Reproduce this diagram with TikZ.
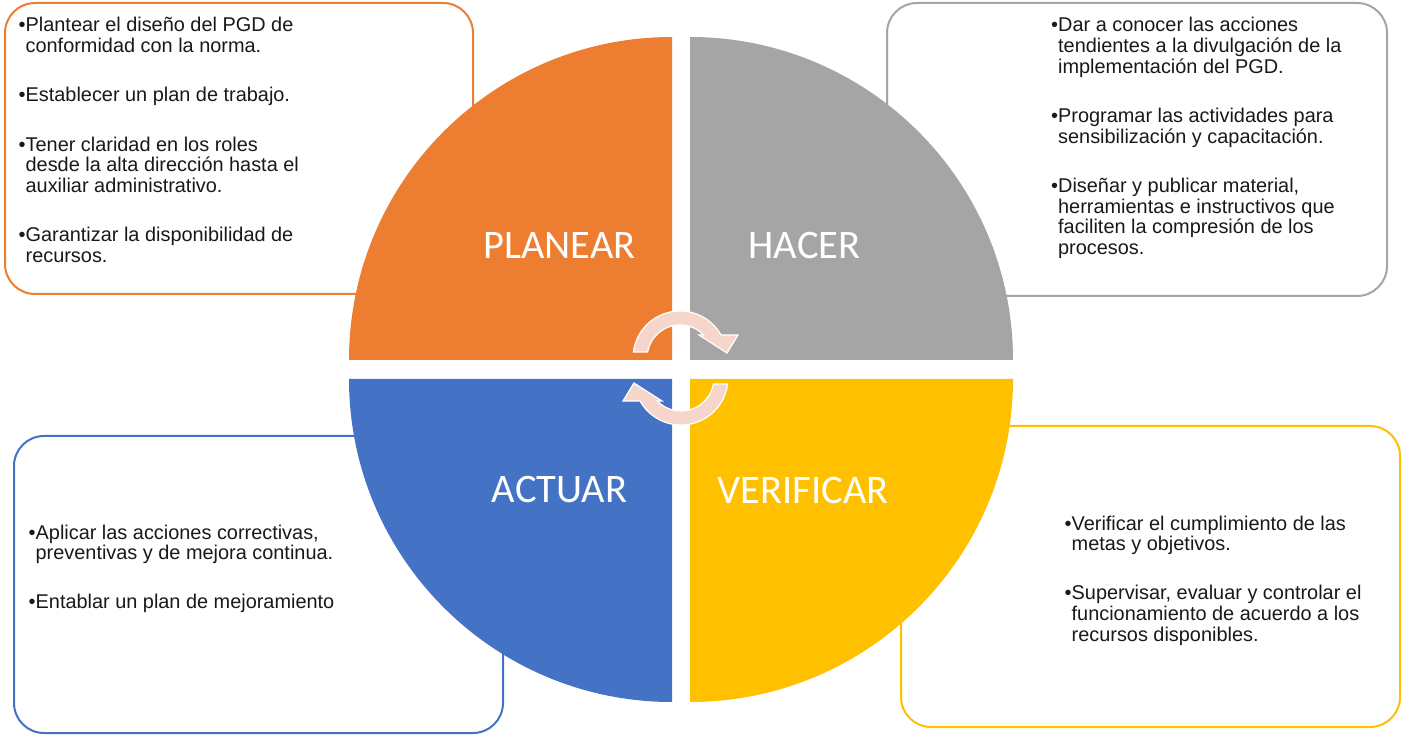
\documentclass[tikz,border=0pt]{standalone}
\usepackage{fontspec}
\setmainfont{Liberation Sans}
\newfontfamily\labelfont{Carlito}
\definecolor{cOrange}{HTML}{ED7D31}
\definecolor{cGray}{HTML}{A5A5A5}
\definecolor{cBlue}{HTML}{4472C4}
\definecolor{cYellow}{HTML}{FFC000}
\definecolor{cArrow}{HTML}{F6D6CB}
\tikzset{
  infobox/.style={draw, line width=2pt, rounded corners=30pt, fill=white},
  biglabel/.style={text=white, font=\labelfont\fontsize{40.5}{44}\selectfont, inner sep=0pt, anchor=base},
  bullets/.style={font=\fontsize{19.9}{20.7}\selectfont, align=left, inner sep=0pt, anchor=base west, text=black!90},
  cyclearrow/.style={fill=cArrow, draw=white, line width=1.2pt, line join=miter}
}
\newcommand{\hb}{\hphantom{•}}
\begin{document}
\begin{tikzpicture}[x=1pt,y=1pt]
\useasboundingbox (0,0) rectangle (1405,734);
% boxes
\draw[infobox, draw=cOrange] (5,440) rectangle (473,731);
\draw[infobox, draw=cGray] (887,438) rectangle (1387,731);
\draw[infobox, draw=cBlue] (14,1) rectangle (503,298);
\draw[infobox, draw=cYellow] (901,7) rectangle (1400,308);
% quadrants
\fill[cOrange] (672,374) -- (349,374) arc[start angle=180, end angle=90, radius=323] -- cycle;
\fill[cGray] (690,374) -- (690,697) arc[start angle=90, end angle=0, radius=323] -- cycle;
\fill[cBlue] (672,355) -- (349,355) arc[start angle=180, end angle=270, radius=323] -- cycle;
\fill[cYellow] (690,355) -- (1013,355) arc[start angle=0, end angle=-90, radius=323] -- cycle;
% labels
\node[biglabel] (planear) at (559.5,475.7) {PLANEAR};
\node[biglabel] (hacer) at (804.5,475.7) {HACER};
\node[biglabel] (actuar) at (559.5,231) {ACTUAR};
\node[biglabel] (verificar) at (803.3,230.7) {VERIFICAR};
% cycle arrows
\path[cyclearrow] (633.4,382.0) arc[start angle=172.7, end angle=29.3, radius=47]
  -- (738,399) -- (727,381) -- (699,399) -- (703.7,399.0)
  arc[start angle=44.2, end angle=169.5, radius=33] -- cycle;
\path[cyclearrow] (727.6,350.0) arc[start angle=352.7, end angle=209.3, radius=47]
  -- (623,333) -- (634,351) -- (662,333) -- (657.3,333.0)
  arc[start angle=224.2, end angle=349.5, radius=33] -- cycle;
% texts
\node[bullets] (tplan) at (18.5,471.6) {•Plantear el diseño del PGD de\\
\hb conformidad con la norma.\\[28.5pt]
•Establecer un plan de trabajo.\\[28.5pt]
•Tener claridad en los roles\\
\hb desde la alta dirección hasta el\\
\hb auxiliar administrativo.\\[28.5pt]
•Garantizar la disponibilidad de\\
\hb recursos.};
\node[bullets] (thacer) at (1051,479.4) {•Dar a conocer las acciones\\
\hb tendientes a la divulgación de la\\
\hb implementación del PGD.\\[28.5pt]
•Programar las actividades para\\
\hb sensibilización y capacitación.\\[28.5pt]
•Diseñar y publicar material,\\
\hb herramientas e instructivos que\\
\hb faciliten la compresión de los\\
\hb procesos.};
\node[bullets] (tactuar) at (28.5,125.1) {•Aplicar las acciones correctivas,\\
\hb preventivas y de mejora continua.\\[28.5pt]
•Entablar un plan de mejoramiento};
\node[bullets] (tverif) at (1064.5,92.7) {•Verificar el cumplimiento de las\\
\hb metas y objetivos.\\[28.5pt]
•Supervisar, evaluar y controlar el\\
\hb funcionamiento de acuerdo a los\\
\hb recursos disponibles.};
\end{tikzpicture}
\end{document}
